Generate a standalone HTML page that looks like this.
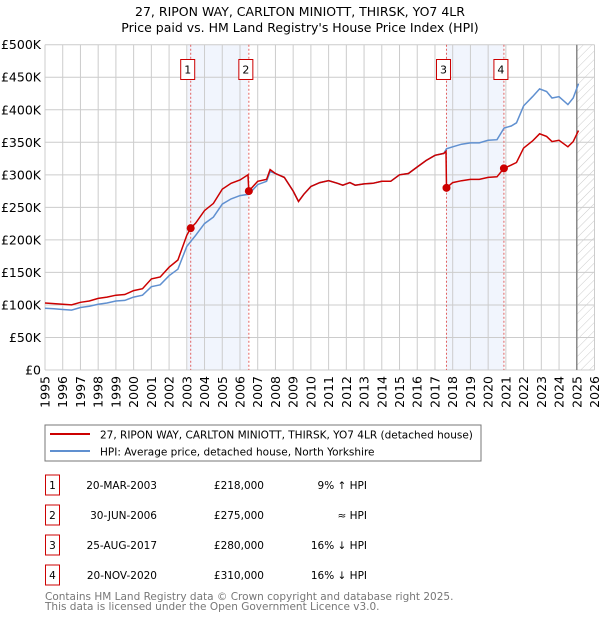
<!DOCTYPE html>
<html><head><meta charset="utf-8"><style>
body{margin:0;background:#fff;font-family:"DejaVu Sans","Liberation Sans",sans-serif;}
svg text{font-family:"DejaVu Sans","Liberation Sans",sans-serif;}
</style></head><body>
<svg id="c" width="600" height="620" xmlns="http://www.w3.org/2000/svg">
<defs><pattern id="hatch" width="6" height="6" patternUnits="userSpaceOnUse" patternTransform="rotate(45)"><line x1="0" y1="0" x2="0" y2="6" stroke="#ccc" stroke-width="1"/></pattern></defs>
<text x="300" y="16" text-anchor="middle" font-size="12.5">27, RIPON WAY, CARLTON MINIOTT, THIRSK, YO7 4LR</text>
<text x="300" y="32" text-anchor="middle" font-size="12.5">Price paid vs. HM Land Registry's House Price Index (HPI)</text>
<g id="grid"></g><g id="marks"></g>
<rect x="45" y="425" width="436" height="36" fill="#fff" stroke="#777"/>
<line x1="50" y1="434" x2="90" y2="434" stroke="#cc0000" stroke-width="2"/>
<text x="100" y="438.5" font-size="10.5">27, RIPON WAY, CARLTON MINIOTT, THIRSK, YO7 4LR (detached house)</text>
<line x1="50" y1="451" x2="90" y2="451" stroke="#6090d0" stroke-width="2"/>
<text x="100" y="455.5" font-size="10.5">HPI: Average price, detached house, North Yorkshire</text>
<g id="table"></g>
<text x="45" y="600" font-size="10.5" fill="#777">Contains HM Land Registry data © Crown copyright and database right 2025.</text>
<text x="45" y="610" font-size="10.5" fill="#777">This data is licensed under the Open Government Licence v3.0.</text>
</svg>
<script>
const hpiDates=[1995,1995.5,1996,1996.5,1997,1997.5,1998,1998.5,1999,1999.5,2000,2000.5,2001,2001.5,2002,2002.5,2003,2003.5,2004,2004.5,2005,2005.5,2006,2006.5,2007,2007.5,2007.7,2008,2008.5,2009,2009.3,2009.6,2010,2010.5,2011,2011.5,2011.8,2012.2,2012.5,2013,2013.5,2014,2014.5,2015,2015.5,2016,2016.5,2017,2017.5,2017.65,2018,2018.5,2019,2019.5,2020,2020.5,2020.9,2021.3,2021.6,2022,2022.5,2022.9,2023.3,2023.6,2024,2024.5,2024.8,2025.1];
const hpiValues=[95,94,93,92,96,98,101,103,106,107,112,115,128,131,145,155,190,207,225,235,255,263,268,270,285,290,305,302,296,275,259,270,282,288,291,287,284,288,284,286,287,290,290,300,302,312,322,330,333,340,343,347,349,349,353,354,372,375,380,406,420,432,428,418,420,408,418,440];
const priceDates=[1995,1995.5,1996,1996.5,1997,1997.5,1998,1998.5,1999,1999.5,2000,2000.5,2001,2001.5,2002,2002.5,2003,2003.22,2003.5,2004,2004.5,2005,2005.5,2006,2006.45,2006.5,2007,2007.5,2007.7,2008,2008.5,2009,2009.3,2009.6,2010,2010.5,2011,2011.5,2011.8,2012.2,2012.5,2013,2013.5,2014,2014.5,2015,2015.5,2016,2016.5,2017,2017.5,2017.62,2017.65,2018,2018.5,2019,2019.5,2020,2020.5,2020.89,2021.3,2021.6,2022,2022.5,2022.9,2023.3,2023.6,2024,2024.5,2024.8,2025.1];
const priceValues=[103,102,101,100,104,106,110,112,115,116,122,125,140,143,158,169,207,218,226,245,256,278,287,292,300,275,290,293,308,302,296,275,259,270,282,288,291,287,284,288,284,286,287,290,290,300,302,312,322,330,333,336,280,288,291,293,293,296,297,310,315,319,341,352,363,359,351,353,343,351,368];
const saleYears=[2003.22,2006.5,2017.65,2020.89];
const salePrices=[218,275,280,310];
const saleLabels=["1","2","3","4"];
const yTicks=[0,50,100,150,200,250,300,350,400,450,500];
const yTickLabels=["£0","£50K","£100K","£150K","£200K","£250K","£300K","£350K","£400K","£450K","£500K"];
const xTicks=[1995,1996,1997,1998,1999,2000,2001,2002,2003,2004,2005,2006,2007,2008,2009,2010,2011,2012,2013,2014,2015,2016,2017,2018,2019,2020,2021,2022,2023,2024,2025,2026];
const bands=[[2003.05,2006.45],[2017.65,2020.89]];
const tDates=["20-MAR-2003","30-JUN-2006","25-AUG-2017","20-NOV-2020"];
const tPrices=["£218,000","£275,000","£280,000","£310,000"];
const tHpi=["9% ↑ HPI","≈ HPI","16% ↓ HPI","16% ↓ HPI"];
const X0=45,X1=594.5,Y0=370,Y1=44.7,forecast=2025.0;
const sx=v=>X0+(v-1995)/(2026-1995)*(X1-X0);
const sy=v=>Y0-v/500*(Y0-Y1);
const NS="http://www.w3.org/2000/svg";
function mk(p,t,a){const e=document.createElementNS(NS,t);for(const k in a)e.setAttribute(k,a[k]);p.appendChild(e);return e;}
const g=document.getElementById('grid'),m=document.getElementById('marks'),tb=document.getElementById('table');
let r=mk(g,'rect',{x:X0,y:Y1,width:X1-X0,height:Y0-Y1,fill:'#fff'});


bands.forEach((b,i)=>{const e=mk(g,'rect',{x:sx(b[0]),y:Y1,width:sx(b[1])-sx(b[0]),height:Y0-Y1,fill:'#f1f5fd'});

});
let h=mk(g,'rect',{x:sx(forecast),y:Y1,width:X1-sx(forecast),height:Y0-Y1,fill:'url(#hatch)'});


yTicks.forEach((v,i)=>{const l=mk(g,'line',{x1:X0,x2:X1,y1:sy(v),y2:sy(v),stroke:'#ccc'});


const t=mk(g,'text',{x:X0-4,y:sy(v)+4.5,'text-anchor':'end','font-size':'12.5'});t.textContent=yTickLabels[i];

});
xTicks.forEach((v,i)=>{const l=mk(g,'line',{x1:sx(v),x2:sx(v),y1:Y1,y2:Y0,stroke:'#ccc'});


const t=mk(g,'text',{x:sx(v),y:Y0+6,'font-size':'12.5','text-anchor':'end',transform:`rotate(-90 ${sx(v)} ${Y0+6})`,dy:'4.5'});t.textContent=v;

});
let fl=mk(g,'line',{x1:sx(forecast),x2:sx(forecast),y1:Y1,y2:Y0,stroke:'#888','stroke-width':1.5});


saleYears.forEach((v,i)=>{const l=mk(g,'line',{x1:sx(v),x2:sx(v),y1:Y1,y2:Y0,stroke:'#e06060','stroke-dasharray':'2,2'});


const bx=mk(g,'rect',{x:sx(v)-10,y:59.5,width:14,height:20,fill:'#fff',stroke:'#cc0000'});


const t=mk(g,'text',{x:sx(v)-3,y:73.5,'text-anchor':'middle','font-size':'11'});t.textContent=saleLabels[i];

});
const path=(ds,vs)=>ds.map((d,i)=>(i?'L':'M')+sx(d).toFixed(1)+','+sy(vs[i]).toFixed(1)).join('');
let hp=mk(m,'path',{d:path(hpiDates,hpiValues),fill:'none',stroke:'#6090d0','stroke-width':1.5});


let pp=mk(m,'path',{d:path(priceDates,priceValues),fill:'none',stroke:'#cc0000','stroke-width':1.5});


saleYears.forEach((v,i)=>{const c=mk(m,'circle',{cx:sx(v),cy:sy(salePrices[i]),r:4,fill:'#cc0000'});

});
tDates.forEach((d,i)=>{const y=483+i*30;
const b=mk(tb,'rect',{x:45.5,y:y-8,width:14,height:20,fill:'#fff',stroke:'#cc0000'});


const texts=[[52.5,saleLabels[i],'middle'],[157,d,'end'],[264,tPrices[i],'end'],[367,tHpi[i],'end']];
texts.forEach(([x,s,a])=>{const t=mk(tb,'text',{x:x,y:y+6,'text-anchor':a,'font-size':'10.5'});t.textContent=s;

});});
</script>
</body></html>
